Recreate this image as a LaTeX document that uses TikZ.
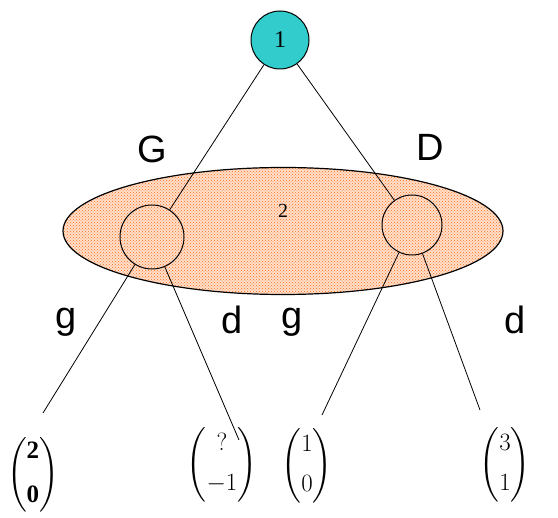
\documentclass[tikz,border=0pt]{standalone}
\usepackage{fontspec}
\usepackage{amsmath}
\setmainfont{Liberation Serif}
\newfontfamily\lblfont{Liberation Sans}
\usetikzlibrary{patterns,shapes.geometric}
\definecolor{teal1}{RGB}{51,204,204}
\definecolor{dotorange}{RGB}{255,110,20}
\begin{document}
\begin{tikzpicture}[x=1pt,y=-1pt,
  edge/.style={draw=black, line width=0.8pt},
  movelbl/.style={font=\lblfont\fontsize{38}{40}\selectfont, inner sep=0pt},
  payoff/.style={font=\fontsize{25}{30}\selectfont, inner sep=0pt},
  dnode/.style={circle, draw=black, line width=1pt, inner sep=0pt}]
\useasboundingbox (0,0) rectangle (558,518);
% information set
\node[ellipse, draw=black, line width=1.2pt, minimum width=440pt, minimum height=127pt,
  preaction={fill=dotorange!22},
  pattern=crosshatch dots, pattern color=dotorange, inner sep=0pt] (info) at (283,231) {};
\node[font=\fontsize{20}{22}\selectfont] (lab2) at (283,211) {2};
% nodes
\node[dnode, fill=teal1, minimum size=58pt, font=\fontsize{24}{26}\selectfont] (n1) at (280,40) {1};
\node[dnode, minimum size=64pt] (nl) at (152,237) {};
\node[dnode, minimum size=60pt] (nr) at (412,225) {};
% payoffs
\node[payoff] (p1) at (33,475) {$\left(\begin{array}{@{}c@{}}\mathbf{2}\\[14pt]\mathbf{0}\end{array}\right)$};
\node[payoff] (p2) at (222,465) {$\left(\begin{array}{@{}c@{}}?\\[10pt]-1\end{array}\right)$};
\node[payoff] (p3) at (307,466) {$\left(\begin{array}{@{}c@{}}1\\[10pt]0\end{array}\right)$};
\node[payoff] (p4) at (505,465) {$\left(\begin{array}{@{}c@{}}3\\[10pt]1\end{array}\right)$};
\coordinate (e1) at (43,413);
\coordinate (e2) at (239,440);
\coordinate (e3) at (322,415);
\coordinate (e4) at (480,410);
% edges
\draw[edge] (n1) -- (nl);
\draw[edge] (n1) -- (nr);
\draw[edge] (nl) -- (e1);
\draw[edge] (nl) -- (e2);
\draw[edge] (nr) -- (e3);
\draw[edge] (nr) -- (e4);
% labels
\node[movelbl] (G) at (152,149) {G};
\node[movelbl] (D) at (430,147) {D};
\node[movelbl] (g1) at (66,322) {g};
\node[movelbl] (d1) at (232,320) {d};
\node[movelbl] (g2) at (292,322) {g};
\node[movelbl] (d2) at (515,320) {d};
\end{tikzpicture}
\end{document}
